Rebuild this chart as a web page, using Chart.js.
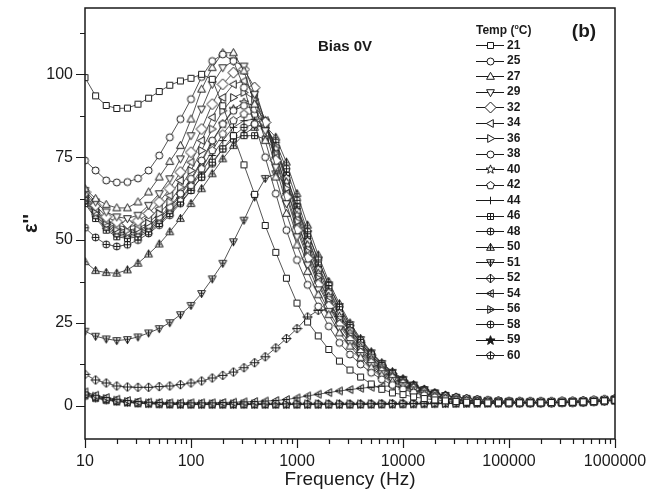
<!DOCTYPE html>
<html>
<head>
<meta charset="utf-8">
<script src="https://cdn.jsdelivr.net/npm/chart.js@4.4.0/dist/chart.umd.min.js"></script>
<style>
  html, body { margin: 0; padding: 0; background: #fff; }
  #wrap { width: 658px; height: 497px; }
</style>
</head>
<body>
<div id="wrap"><canvas id="chart" width="658" height="497"></canvas></div>
<script>
// frequency points (Hz)
const freqs = [10, 12.59, 15.85, 19.95, 25.12, 31.62, 39.81, 50.12, 63.1, 79.43,
  100, 125.9, 158.5, 199.5, 251.2, 316.2, 398.1, 501.2, 631, 794.3,
  1000, 1259, 1585, 1995, 2512, 3162, 3981, 5012, 6310, 7943,
  10000, 12589, 15849, 19953, 25119, 31623, 39811, 50119, 63096, 79433,
  100000, 125893, 158489, 199526, 251189, 316228, 398107, 501187, 630957, 794328, 1000000];

const xTicks = [10, 100, 1000, 10000, 100000, 1000000];
const yTicks = [0, 25, 50, 75, 100];

const temps = ['21', '25', '27', '29', '32', '34', '36', '38', '40', '42', '44',
  '46', '48', '50', '51', '52', '54', '56', '58', '59', '60'];

// epsilon'' per temperature
const eps21 = [99, 93.5, 90.6, 89.7, 89.8, 91, 92.8, 94.8, 96.7, 98,
  98.8, 100, 98.5, 90.5, 81.5, 72.7, 63.8, 54.4, 46.3, 38.5,
  31, 25.3, 21.1, 17, 13.5, 10.8, 8.7, 6.6, 5, 3.9,
  3.4, 2.7, 2.2, 1.8, 1.5, 1.3, 1.1, 1.0, 0.9, 0.9,
  0.9, 0.9, 0.9, 0.9, 1.0, 1.0, 1.1, 1.2, 1.3, 1.5, 1.7];
const eps25 = [74, 71, 68, 67.4, 67.5, 68.6, 71, 75.5, 81, 86.5,
  92.5, 99.2, 104, 106, 104, 96, 85, 75, 64, 53,
  44, 36.5, 30, 24, 19, 15.5, 12.5, 10, 8, 6.3,
  5, 4, 3.2, 2.6, 2.1, 1.7, 1.5, 1.3, 1.2, 1.1,
  1.0, 1.0, 1.0, 1.0, 1.0, 1.1, 1.1, 1.2, 1.3, 1.5, 1.8];
const eps27 = [65.5, 62.5, 60.7, 59.7, 59.7, 61.5, 64.5, 69, 73.7, 78.5,
  86.5, 95.5, 102, 106.5, 106.5, 101, 91, 80, 69, 58,
  48.5, 40.5, 33.5, 27.5, 22, 18, 14.5, 11.5, 9.2, 7.3,
  5.8, 4.5, 3.6, 2.9, 2.3, 1.9, 1.6, 1.4, 1.3, 1.2,
  1.1, 1.0, 1.0, 1.0, 1.0, 1.1, 1.1, 1.2, 1.4, 1.6, 1.8];
const eps29 = [65, 61.5, 58.5, 57, 56.5, 57.5, 60.5, 64, 68.5, 74.5,
  81.5, 89.5, 97, 102, 104, 102.5, 94, 83, 72, 61,
  51, 42.5, 35, 28.5, 23.2, 18.8, 15.2, 12.2, 9.7, 7.7,
  6.1, 4.8, 3.8, 3.0, 2.4, 2.0, 1.7, 1.5, 1.3, 1.2,
  1.1, 1.1, 1.0, 1.0, 1.1, 1.1, 1.2, 1.3, 1.4, 1.6, 1.9];
const eps32 = [64.5, 60.5, 57, 55.5, 55, 55.8, 58, 61.5, 65.5, 70.5,
  76.5, 83.5, 91, 97, 100.5, 101.5, 96, 85.5, 74, 63,
  53, 44.5, 36.5, 30, 24.3, 19.7, 15.8, 12.7, 10.1, 8.1,
  6.4, 5.0, 3.9, 3.1, 2.5, 2.1, 1.8, 1.5, 1.4, 1.2,
  1.1, 1.1, 1.1, 1.1, 1.1, 1.2, 1.2, 1.3, 1.5, 1.7, 1.9];
const eps34 = [64, 59.5, 56, 54.3, 54, 54.5, 56.5, 59.5, 63.5, 68,
  73.5, 80, 87, 93, 97, 98, 94.5, 86, 75, 64,
  54, 45.5, 37.5, 30.5, 25, 20.2, 16.2, 13, 10.4, 8.3,
  6.6, 5.1, 4.0, 3.2, 2.6, 2.1, 1.8, 1.6, 1.4, 1.3,
  1.2, 1.1, 1.1, 1.1, 1.1, 1.2, 1.2, 1.3, 1.5, 1.7, 1.9];
const eps36 = [63.5, 59, 55.5, 53.5, 53, 53.5, 55.3, 58, 61.5, 66,
  71, 77, 83.5, 89, 93, 94.5, 92.5, 86, 76, 65.5,
  55.5, 46.5, 38.5, 31.5, 25.5, 20.6, 16.6, 13.3, 10.6, 8.5,
  6.7, 5.2, 4.1, 3.3, 2.6, 2.2, 1.8, 1.6, 1.4, 1.3,
  1.2, 1.1, 1.1, 1.1, 1.1, 1.2, 1.2, 1.3, 1.5, 1.7, 1.9];
const eps38 = [63, 58.5, 55, 53, 52.5, 53, 54.5, 57, 60, 64,
  68.5, 74, 80, 85, 89, 90.5, 89.5, 84.5, 76, 66,
  56, 47, 39, 32, 26, 21, 17, 13.6, 10.8, 8.6,
  6.9, 5.4, 4.2, 3.3, 2.7, 2.2, 1.9, 1.6, 1.4, 1.3,
  1.2, 1.1, 1.1, 1.1, 1.1, 1.2, 1.2, 1.3, 1.5, 1.7, 1.9];
const eps40 = [62.5, 58, 54.5, 52.5, 52, 52.5, 54, 56.5, 59.5, 63.5,
  68, 73.5, 79.5, 85, 89.5, 91.5, 90.5, 86, 77.5, 67.5,
  57.5, 48.5, 40, 33, 27, 22, 17.8, 14.3, 11.4, 9,
  7.1, 5.6, 4.4, 3.4, 2.8, 2.3, 1.9, 1.6, 1.4, 1.3,
  1.2, 1.2, 1.1, 1.1, 1.1, 1.2, 1.2, 1.3, 1.5, 1.7, 2.0];
const eps42 = [62, 57.5, 54, 52, 51.5, 52, 53.5, 56, 59, 62.5,
  66.5, 71.5, 77, 82, 86, 88, 88, 85, 78, 68.5,
  58.5, 49.5, 41, 34, 27.8, 22.6, 18.3, 14.7, 11.7, 9.3,
  7.3, 5.7, 4.5, 3.5, 2.8, 2.3, 1.9, 1.7, 1.5, 1.3,
  1.2, 1.2, 1.1, 1.1, 1.1, 1.2, 1.2, 1.3, 1.5, 1.7, 2.0];
const eps44 = [61.5, 57, 53.5, 51.5, 51, 51.5, 53, 55.5, 58.5, 62,
  66, 70.5, 75.5, 80, 84, 86, 86.5, 84.5, 78.5, 69.5,
  59.5, 50.5, 42, 34.8, 28.5, 23.2, 18.8, 15.1, 12, 9.5,
  7.5, 5.9, 4.6, 3.6, 2.9, 2.4, 2.0, 1.7, 1.5, 1.3,
  1.2, 1.2, 1.2, 1.1, 1.2, 1.2, 1.3, 1.4, 1.5, 1.7, 2.0];
const eps46 = [61, 56.5, 53, 51, 50.5, 51, 52.5, 55, 58, 61.5,
  65, 69, 73.5, 77.5, 80.5, 81.5, 81.5, 80.5, 77, 69.5,
  60, 51, 42.5, 35.3, 29, 23.6, 19.1, 15.4, 12.2, 9.7,
  7.7, 6.0, 4.7, 3.7, 3.0, 2.4, 2.0, 1.7, 1.5, 1.3,
  1.2, 1.2, 1.2, 1.2, 1.2, 1.2, 1.3, 1.4, 1.6, 1.8, 2.0];
const eps48 = [53.7, 50.8, 48.7, 48.1, 48.6, 50, 52, 54.5, 57.5, 61,
  65, 69, 73, 77.5, 81.5, 84, 85, 84, 79.5, 71.5,
  62, 52.5, 44, 36.3, 29.7, 24.2, 19.6, 15.8, 12.6, 10,
  7.9, 6.2, 4.9, 3.8, 3.1, 2.5, 2.1, 1.8, 1.5, 1.4,
  1.3, 1.2, 1.2, 1.2, 1.2, 1.2, 1.3, 1.4, 1.6, 1.8, 2.0];
const eps50 = [43.5, 40.8, 40.2, 40, 41, 43, 45.8, 48.8, 52.5, 56.5,
  61, 65.5, 70, 74.5, 78.5, 82, 84, 84.5, 81, 73.5,
  64, 54.5, 45.5, 37.5, 30.8, 25, 20.3, 16.3, 13, 10.3,
  8.2, 6.4, 5.0, 3.9, 3.2, 2.6, 2.2, 1.8, 1.6, 1.4,
  1.3, 1.2, 1.2, 1.2, 1.2, 1.2, 1.3, 1.4, 1.6, 1.8, 2.1];
const eps51 = [22.5, 21, 20.2, 19.7, 20, 20.8, 22, 23.3, 25.1, 27.5,
  30.3, 33.9, 38.3, 43, 49.5, 56, 63, 68.6, 70, 66.5,
  60, 52, 44, 36.5, 30, 24.5, 20, 16, 12.8, 10.1,
  8.0, 6.3, 4.9, 3.9, 3.1, 2.5, 2.1, 1.8, 1.5, 1.4,
  1.3, 1.2, 1.2, 1.2, 1.2, 1.2, 1.3, 1.4, 1.6, 1.8, 2.0];
const eps52 = [9.5, 7.8, 6.9, 6.0, 5.7, 5.6, 5.6, 5.8, 6.0, 6.4,
  6.9, 7.5, 8.4, 9.2, 10.2, 11.5, 13, 14.8, 17.5, 20.3,
  23.3, 26.8, 28.8, 29, 27, 23, 19, 15.3, 12.2, 9.7,
  7.7, 6.1, 4.8, 3.8, 3.1, 2.5, 2.1, 1.8, 1.5, 1.4,
  1.3, 1.2, 1.2, 1.2, 1.2, 1.2, 1.3, 1.4, 1.6, 1.8, 2.0];
const eps54 = [4.2, 3.2, 2.5, 2.0, 1.6, 1.3, 1.1, 1.0, 0.9, 0.9,
  0.9, 0.9, 0.9, 1.0, 1.1, 1.2, 1.3, 1.45, 1.6, 1.9,
  2.4, 3.0, 3.5, 4.0, 4.5, 4.9, 5.3, 5.6, 5.9, 6.0,
  5.8, 5.2, 4.4, 3.6, 2.9, 2.4, 2.0, 1.7, 1.5, 1.3,
  1.2, 1.2, 1.1, 1.1, 1.1, 1.2, 1.2, 1.3, 1.5, 1.7, 1.9];
const eps56 = [3.8, 2.9, 2.2, 1.7, 1.3, 1.0, 0.85, 0.75, 0.7, 0.65,
  0.6, 0.6, 0.6, 0.6, 0.6, 0.6, 0.6, 0.6, 0.6, 0.6,
  0.6, 0.6, 0.6, 0.6, 0.6, 0.6, 0.6, 0.65, 0.65, 0.7,
  0.7, 0.7, 0.75, 0.75, 0.8, 0.8, 0.8, 0.85, 0.85, 0.9,
  0.9, 0.9, 0.95, 0.95, 1.0, 1.0, 1.1, 1.2, 1.3, 1.5, 1.7];
const eps58 = [3.5, 2.7, 2.0, 1.5, 1.15, 0.9, 0.75, 0.65, 0.6, 0.55,
  0.5, 0.5, 0.5, 0.5, 0.5, 0.5, 0.5, 0.5, 0.5, 0.5,
  0.5, 0.5, 0.5, 0.5, 0.5, 0.5, 0.5, 0.55, 0.55, 0.6,
  0.6, 0.65, 0.7, 0.7, 0.75, 0.75, 0.8, 0.8, 0.85, 0.85,
  0.9, 0.9, 0.9, 0.95, 1.0, 1.0, 1.1, 1.2, 1.3, 1.5, 1.7];
const eps59 = [3.3, 2.5, 1.9, 1.4, 1.1, 0.85, 0.7, 0.6, 0.5, 0.45,
  0.45, 0.45, 0.45, 0.45, 0.45, 0.45, 0.45, 0.45, 0.45, 0.45,
  0.45, 0.45, 0.45, 0.45, 0.45, 0.45, 0.5, 0.5, 0.55, 0.55,
  0.6, 0.6, 0.65, 0.7, 0.7, 0.75, 0.75, 0.8, 0.8, 0.85,
  0.85, 0.9, 0.9, 0.95, 0.95, 1.0, 1.1, 1.2, 1.3, 1.5, 1.7];
const eps60 = [3.0, 2.3, 1.7, 1.3, 1.0, 0.8, 0.65, 0.55, 0.45, 0.4,
  0.4, 0.4, 0.4, 0.4, 0.4, 0.4, 0.4, 0.4, 0.4, 0.4,
  0.4, 0.4, 0.4, 0.4, 0.4, 0.4, 0.45, 0.45, 0.5, 0.5,
  0.55, 0.6, 0.6, 0.65, 0.7, 0.7, 0.75, 0.75, 0.8, 0.8,
  0.85, 0.85, 0.9, 0.9, 0.95, 1.0, 1.05, 1.15, 1.3, 1.5, 1.7];

const allSeries = [eps21, eps25, eps27, eps29, eps32, eps34, eps36, eps38, eps40, eps42, eps44,
  eps46, eps48, eps50, eps51, eps52, eps54, eps56, eps58, eps59, eps60];

const markerKinds = ['square', 'circle', 'triUp', 'triDown', 'diamond', 'triLeft', 'triRight',
  'circle', 'star', 'pentagon', 'plus', 'squarePlus', 'circlePlus', 'triUpPlus', 'triDownPlus',
  'diamondPlus', 'triLeftPlus', 'triRightPlus', 'circlePlus', 'starFill', 'pentagonPlus'];

const FONT = '"Liberation Sans", Arial, Helvetica, sans-serif';
const INK = '#1a1a1a';

// small canvases used as point styles
function makeMarker(kind) {
    const size = kind === 'diamond' ? 13 : 11;
    const c = document.createElement('canvas');
    c.width = size;
    c.height = size;
    const g = c.getContext('2d');
    g.translate(size / 2, size / 2);
    g.lineWidth = 1;
    g.strokeStyle = INK;
    g.fillStyle = '#fff';

    function poly(pts) {
        g.beginPath();
        g.moveTo(pts[0][0], pts[0][1]);
        for (let i = 1; i < pts.length; i++) g.lineTo(pts[i][0], pts[i][1]);
        g.closePath();
        g.fill();
        g.stroke();
    }
    function cross(a, b) {
        g.beginPath();
        g.moveTo(0, -a); g.lineTo(0, a);
        g.moveTo(-b, 0); g.lineTo(b, 0);
        g.stroke();
    }
    function tri(rot) {
        g.save();
        g.rotate(rot);
        poly([[0, -4.2], [3.9, 2.8], [-3.9, 2.8]]);
        g.restore();
    }
    function triPlus(rot) {
        g.save();
        g.rotate(rot);
        poly([[0, -4.2], [3.9, 2.8], [-3.9, 2.8]]);
        g.beginPath();
        g.moveTo(0, -4.2); g.lineTo(0, 2.8);
        g.moveTo(-2.4, 0.3); g.lineTo(2.4, 0.3);
        g.stroke();
        g.restore();
    }
    function starPts(ro, ri) {
        const pts = [];
        for (let i = 0; i < 10; i++) {
            const r = i % 2 === 0 ? ro : ri;
            const a = -Math.PI / 2 + i * Math.PI / 5;
            pts.push([r * Math.cos(a), r * Math.sin(a)]);
        }
        return pts;
    }
    function pentPts(r) {
        const pts = [];
        for (let i = 0; i < 5; i++) {
            const a = -Math.PI / 2 + i * 2 * Math.PI / 5;
            pts.push([r * Math.cos(a), r * Math.sin(a)]);
        }
        return pts;
    }

    switch (kind) {
        case 'square': poly([[-3, -3], [3, -3], [3, 3], [-3, 3]]); break;
        case 'circle':
            g.beginPath(); g.arc(0, 0, 3.5, 0, Math.PI * 2); g.fill(); g.stroke(); break;
        case 'triUp': tri(0); break;
        case 'triDown': tri(Math.PI); break;
        case 'triLeft': tri(-Math.PI / 2); break;
        case 'triRight': tri(Math.PI / 2); break;
        case 'diamond': poly([[0, -5.5], [5.5, 0], [0, 5.5], [-5.5, 0]]); break;
        case 'star': poly(starPts(4.6, 1.9)); break;
        case 'pentagon': poly(pentPts(4)); break;
        case 'plus': cross(3.8, 3.8); break;
        case 'squarePlus': poly([[-3, -3], [3, -3], [3, 3], [-3, 3]]); cross(3, 3); break;
        case 'circlePlus':
            g.beginPath(); g.arc(0, 0, 3.5, 0, Math.PI * 2); g.fill(); g.stroke(); cross(3.5, 3.5); break;
        case 'triUpPlus': triPlus(0); break;
        case 'triDownPlus': triPlus(Math.PI); break;
        case 'triLeftPlus': triPlus(-Math.PI / 2); break;
        case 'triRightPlus': triPlus(Math.PI / 2); break;
        case 'diamondPlus': poly([[0, -4.5], [4.5, 0], [0, 4.5], [-4.5, 0]]); cross(4.5, 4.5); break;
        case 'starFill':
            g.fillStyle = INK; poly(starPts(4.8, 2.0)); break;
        case 'pentagonPlus': poly(pentPts(4)); cross(4, 3.8); break;
    }
    return c;
}

const markers = markerKinds.map(makeMarker);

const datasets = temps.map((t, i) => ({
    label: t,
    data: freqs.map((f, j) => ({ x: f, y: allSeries[i][j] })),
    borderColor: '#2a2a2a',
    borderWidth: 0.8,
    pointStyle: markers[i],
    pointRadius: 4,
    showLine: true,
    tension: 0
}));

// frame, minor ticks, legend and labels
const decorPlugin = {
    id: 'decor',
    afterDraw(chart) {
        const ctx = chart.ctx;
        const a = chart.chartArea;
        const xs = chart.scales.x;
        const ys = chart.scales.y;
        ctx.save();
        ctx.strokeStyle = INK;
        ctx.lineWidth = 1.5;
        ctx.strokeRect(a.left, a.top, a.right - a.left, a.bottom - a.top);

        ctx.lineWidth = 1.2;
        ctx.beginPath();
        // y ticks
        for (let v = 12.5; v < 120; v += 12.5) {
            const py = Math.round(ys.getPixelForValue(v)) + 0.5;
            const len = v % 25 === 0 ? 9 : 5;
            ctx.moveTo(a.left, py);
            ctx.lineTo(a.left - len, py);
        }
        const py0 = Math.round(ys.getPixelForValue(0)) + 0.5;
        ctx.moveTo(a.left, py0); ctx.lineTo(a.left - 9, py0);
        // x ticks
        xTicks.forEach((d, i) => {
            const px = Math.round(xs.getPixelForValue(d)) + 0.5;
            ctx.moveTo(px, a.bottom);
            ctx.lineTo(px, a.bottom + 9);
            if (i < xTicks.length - 1) {
                for (let m = 2; m < 10; m++) {
                    const mx = Math.round(xs.getPixelForValue(d * m)) + 0.5;
                    ctx.moveTo(mx, a.bottom);
                    ctx.lineTo(mx, a.bottom + 5);
                }
            }
        });
        ctx.stroke();

        // annotations
        ctx.fillStyle = INK;
        ctx.textBaseline = 'middle';
        ctx.textAlign = 'center';
        ctx.font = 'bold 15px ' + FONT;
        ctx.fillText('Bias 0V', 345, 47);
        ctx.font = 'bold 19px ' + FONT;
        ctx.fillText('(b)', 584, 32);

        // legend title
        ctx.textAlign = 'left';
        ctx.font = 'bold 12px ' + FONT;
        let tx = 476;
        ctx.fillText('Temp (', tx, 31);
        tx += ctx.measureText('Temp (').width;
        ctx.font = 'bold 7px ' + FONT;
        ctx.fillText('o', tx, 27);
        tx += ctx.measureText('o').width;
        ctx.font = 'bold 12px ' + FONT;
        ctx.fillText('C)', tx, 31);

        // legend rows
        temps.forEach((t, i) => {
            const ry = 45 + i * 15.5;
            ctx.strokeStyle = INK;
            ctx.lineWidth = 1;
            ctx.beginPath();
            ctx.moveTo(476, Math.round(ry) + 0.5);
            ctx.lineTo(504, Math.round(ry) + 0.5);
            ctx.stroke();
            const m = markers[i];
            ctx.drawImage(m, Math.round(490 - m.width / 2), Math.round(ry - m.height / 2 + 0.5));
            ctx.fillText(t, 507, ry + 0.5);
        });
        ctx.restore();
    }
};

new Chart(document.getElementById('chart'), {
    type: 'line',
    data: { datasets: datasets },
    options: {
        responsive: false,
        animation: false,
        devicePixelRatio: 1,
        layout: { padding: { top: 8, right: 43, left: 0, bottom: 0 } },
        plugins: {
            legend: { display: false },
            tooltip: { enabled: false }
        },
        scales: {
            x: {
                type: 'logarithmic',
                min: 10,
                max: 1000000,
                grid: { display: false, drawTicks: false },
                border: { display: false },
                afterBuildTicks: (s) => { s.ticks = xTicks.map(v => ({ value: v })); },
                afterFit: (s) => { s.height = 58; s.paddingLeft = 0; s.paddingRight = 0; },
                ticks: {
                    padding: 13,
                    color: INK,
                    maxRotation: 0,
                    autoSkip: false,
                    font: { size: 16, family: FONT },
                    callback: (v) => String(v)
                },
                title: {
                    display: true,
                    text: 'Frequency (Hz)',
                    color: INK,
                    font: { size: 19, family: FONT },
                    padding: { top: 0, bottom: 6 }
                }
            },
            y: {
                type: 'linear',
                min: -10,
                max: 120,
                grid: { display: false, drawTicks: false },
                border: { display: false },
                afterBuildTicks: (s) => { s.ticks = yTicks.map(v => ({ value: v })); },
                afterFit: (s) => { s.width = 85; s.paddingTop = 0; s.paddingBottom = 0; },
                ticks: {
                    padding: 12,
                    color: INK,
                    font: { size: 16, family: FONT },
                    callback: (v) => String(v)
                },
                title: {
                    display: true,
                    text: "ε''",
                    color: INK,
                    font: { size: 20, weight: 'bold', family: FONT },
                    padding: { top: 19, bottom: 0 }
                }
            }
        }
    },
    plugins: [decorPlugin]
});
</script>
</body>
</html>
